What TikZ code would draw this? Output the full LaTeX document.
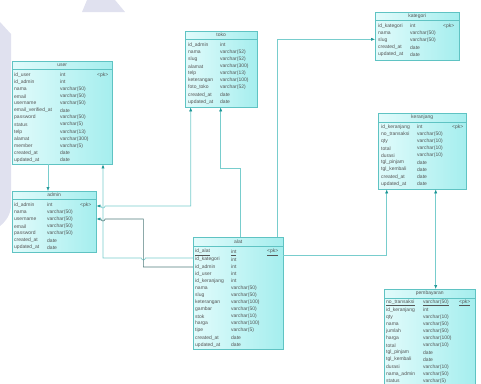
\documentclass[tikz,border=0pt]{standalone}
\usepackage{fontspec}
\setmainfont{Liberation Sans}
\usetikzlibrary{arrows.meta, positioning, calc}
\definecolor{erline}{RGB}{120,205,205}
\definecolor{erdark}{RGB}{80,125,125}
\definecolor{ertip}{RGB}{30,150,150}
\definecolor{erborder}{RGB}{95,195,195}
\definecolor{erleft}{RGB}{225,251,251}
\definecolor{erright}{RGB}{165,238,238}
\definecolor{ertext}{RGB}{85,85,85}
\definecolor{ermark}{RGB}{224,225,239}

\begin{document}
\begin{tikzpicture}[x=1pt, y=-1pt, >={Latex[length=4pt,width=3.2pt,color=ertip]},
  tbl/.style={draw=erborder, left color=erleft, right color=erright,
    anchor=north west, inner sep=0pt},
  fld/.style={anchor=west, inner sep=0pt, text=ertext,
    font=\fontsize{5}{6}\selectfont},
  ttl/.style={inner sep=0pt, text=ertext, font=\fontsize{5}{6}\selectfont},
  link/.style={erline, line width=0.6pt},
  linkdk/.style={erdark, line width=0.6pt}]

  \clip (0,0) rectangle (481,383);

  % --- faint watermark ---
  \fill[ermark] (87,0) -- (115,0) -- (125,12) -- (82,12) -- cycle;
  \fill[ermark] (0,22) -- (11,34) -- (11,205)
    .. controls (11,215) and (5,222) .. (0,226) -- cycle;

  % --- user ---
  \node[tbl, minimum width=100pt, minimum height=103pt] (user) at (12,61) {};
  \node[ttl] (user-h) at ([yshift=-4.2pt]user.north) {user};
  \draw[erborder] ([yshift=-8.5pt]user.north west) -- ([yshift=-8.5pt]user.north east);
  \foreach \f/\t [count=\i] in {id\_user/int, id\_admin/int, nama/varchar(50),
      email/varchar(50), username/varchar(50), email\_verified\_at/date,
      password/varchar(50), status/varchar(5), telp/varchar(13),
      alamat/varchar(300), member/varchar(5), created\_at/date, updated\_at/date} {
    \node[fld] (user-n\i) at ([xshift=2pt, yshift={-14pt-(\i-1)*7.1pt}]user.north west) {\f};
    \node[fld] (user-t\i) at ([xshift=48pt, yshift={-14pt-(\i-1)*7.1pt}]user.north west) {\t};
  }
  \node[fld] (user-pk) at ([xshift=85pt, yshift=-14pt]user.north west) {<pk>};

  % --- admin ---
  \node[tbl, minimum width=84pt, minimum height=61pt] (admin) at (12,191) {};
  \node[ttl] (admin-h) at ([yshift=-4.2pt]admin.north) {admin};
  \draw[erborder] ([yshift=-8.5pt]admin.north west) -- ([yshift=-8.5pt]admin.north east);
  \foreach \f/\t [count=\i] in {id\_admin/int, nama/varchar(50), username/varchar(50),
      email/varchar(50), password/varchar(50), created\_at/date, updated\_at/date} {
    \node[fld] (admin-n\i) at ([xshift=2pt, yshift={-14pt-(\i-1)*7.1pt}]admin.north west) {\f};
    \node[fld] (admin-t\i) at ([xshift=35pt, yshift={-14pt-(\i-1)*7.1pt}]admin.north west) {\t};
  }
  \node[fld] (admin-pk) at ([xshift=68pt, yshift=-14pt]admin.north west) {<pk>};

  % --- toko ---
  \node[tbl, minimum width=72pt, minimum height=76pt] (toko) at (185,31) {};
  \node[ttl] (toko-h) at ([yshift=-4.2pt]toko.north) {toko};
  \draw[erborder] ([yshift=-8.5pt]toko.north west) -- ([yshift=-8.5pt]toko.north east);
  \foreach \f/\t [count=\i] in {id\_admin/int, nama/varchar(52), slug/varchar(52),
      alamat/varchar(300), telp/varchar(13), keterangan/varchar(100),
      foto\_toko/varchar(52), created\_at/date, updated\_at/date} {
    \node[fld] (toko-n\i) at ([xshift=3pt, yshift={-14pt-(\i-1)*7.1pt}]toko.north west) {\f};
    \node[fld] (toko-t\i) at ([xshift=35pt, yshift={-14pt-(\i-1)*7.1pt}]toko.north west) {\t};
  }

  % --- kategori ---
  \node[tbl, minimum width=84pt, minimum height=48pt] (kategori) at (375,12) {};
  \node[ttl] (kategori-h) at ([yshift=-4.2pt]kategori.north) {kategori};
  \draw[erborder] ([yshift=-8.5pt]kategori.north west) -- ([yshift=-8.5pt]kategori.north east);
  \foreach \f/\t [count=\i] in {id\_kategori/int, nama/varchar(50), slug/varchar(50),
      created\_at/date, updated\_at/date} {
    \node[fld] (kategori-n\i) at ([xshift=3pt, yshift={-14pt-(\i-1)*7.1pt}]kategori.north west) {\f};
    \node[fld] (kategori-t\i) at ([xshift=35pt, yshift={-14pt-(\i-1)*7.1pt}]kategori.north west) {\t};
  }
  \node[fld] (kategori-pk) at ([xshift=68pt, yshift=-14pt]kategori.north west) {<pk>};

  % --- keranjang ---
  \node[tbl, minimum width=88pt, minimum height=76pt] (keranjang) at (378,113) {};
  \node[ttl] (keranjang-h) at ([yshift=-4.4pt]keranjang.north) {keranjang};
  \draw[erborder] ([yshift=-8.8pt]keranjang.north west) -- ([yshift=-8.8pt]keranjang.north east);
  \foreach \f/\t [count=\i] in {id\_keranjang/int, no\_transaksi/varchar(50),
      qty/varchar(10), total/varchar(10), durasi/varchar(10), tgl\_pinjam/date,
      tgl\_kembali/date, created\_at/date, updated\_at/date} {
    \node[fld] (keranjang-n\i) at ([xshift=3pt, yshift={-14pt-(\i-1)*7.1pt}]keranjang.north west) {\f};
    \node[fld] (keranjang-t\i) at ([xshift=39pt, yshift={-14pt-(\i-1)*7.1pt}]keranjang.north west) {\t};
  }
  \node[fld] (keranjang-pk) at ([xshift=74pt, yshift=-14pt]keranjang.north west) {<pk>};

  % --- alat ---
  \node[tbl, minimum width=90pt, minimum height=112pt] (alat) at (193,237) {};
  \node[ttl] (alat-h) at ([yshift=-4.6pt]alat.north) {alat};
  \draw[erborder] ([yshift=-9.2pt]alat.north west) -- ([yshift=-9.2pt]alat.north east);
  \foreach \f/\t [count=\i] in {{\underline{id\_alat}}/{\underline{int}}, id\_kategori/int,
      id\_admin/int, id\_user/int, id\_keranjang/int, nama/varchar(50),
      slug/varchar(50), keterangan/varchar(100), gambar/varchar(50),
      stok/varchar(10), harga/varchar(100), tipe/varchar(5),
      created\_at/date, updated\_at/date} {
    \node[fld] (alat-n\i) at ([xshift=2pt, yshift={-15.5pt-(\i-1)*7.1pt}]alat.north west) {\f};
    \node[fld] (alat-t\i) at ([xshift=38pt, yshift={-15.5pt-(\i-1)*7.1pt}]alat.north west) {\t};
  }
  \node[fld] (alat-pk) at ([xshift=74pt, yshift=-15.5pt]alat.north west) {\underline{<pk>}};

  % --- pembayaran ---
  \node[tbl, minimum width=91pt, minimum height=100pt] (pembayaran) at (384,289) {};
  \node[ttl] (pembayaran-h) at ([yshift=-4.4pt]pembayaran.north) {pembayaran};
  \draw[erborder] ([yshift=-8.8pt]pembayaran.north west) -- ([yshift=-8.8pt]pembayaran.north east);
  \foreach \f/\t [count=\i] in {{\underline{no\_transaksi}}/{\underline{varchar(50)}},
      id\_keranjang/int, qty/varchar(10), nama/varchar(50), jumlah/varchar(50),
      harga/varchar(100), total/varchar(10), tgl\_pinjam/date, tgl\_kembali/date,
      durasi/varchar(10), nama\_admin/varchar(50), status/varchar(5)} {
    \node[fld] (pembayaran-n\i) at ([xshift=2pt, yshift={-13.8pt-(\i-1)*7.1pt}]pembayaran.north west) {\f};
    \node[fld] (pembayaran-t\i) at ([xshift=39pt, yshift={-13.8pt-(\i-1)*7.1pt}]pembayaran.north west) {\t};
  }
  \node[fld] (pembayaran-pk) at ([xshift=75pt, yshift=-13.8pt]pembayaran.north west) {\underline{<pk>}};

  % --- references ---
  \coordinate (uA) at ([xshift=91pt]user.south west);
  \coordinate (aB) at ([yshift=-15pt]admin.north east);
  \coordinate (aC) at ([yshift=-28pt]admin.north east);
  \coordinate (bC) at ([xshift=47pt]aC);
  \coordinate (lA) at ([yshift=-21pt]alat.north west);
  \coordinate (lC) at ([yshift=-30pt]alat.north west);
  \coordinate (kG) at ([xshift=57.7pt]keranjang.south west);

  \draw[link,->] ([xshift=36pt]user.south west) -- ([xshift=36pt]admin.north west);
  \draw[link,->] (lA) -- ($(bC |- lA)+(2,0)$)
    arc[start angle=0, end angle=-180, radius=2pt] -| (uA);
  \draw[link,<->] (aB) -- ($(uA |- aB)+(-2,0)$)
    arc[start angle=180, end angle=360, radius=2pt] -| ([xshift=5.7pt]toko.south west);
  \draw[linkdk,->] (lC) -| (bC) -- ($(uA |- aC)+(2,0)$)
    arc[start angle=0, end angle=-180, radius=2pt] -- (aC);
  \draw[link,->] ([xshift=47pt]alat.north west) -- ++(0,-68.7)
    -| ([xshift=35.7pt]toko.south west);
  \draw[link,->] ([xshift=84pt]alat.north west) |- ([yshift=-27.3pt]kategori.north west);
  \draw[link,->] ([yshift=-18pt]alat.north east) -| ([xshift=8.7pt]keranjang.south west);
  \draw[link,<->] (kG) -- (kG |- pembayaran.north);

\end{tikzpicture}
\end{document}
